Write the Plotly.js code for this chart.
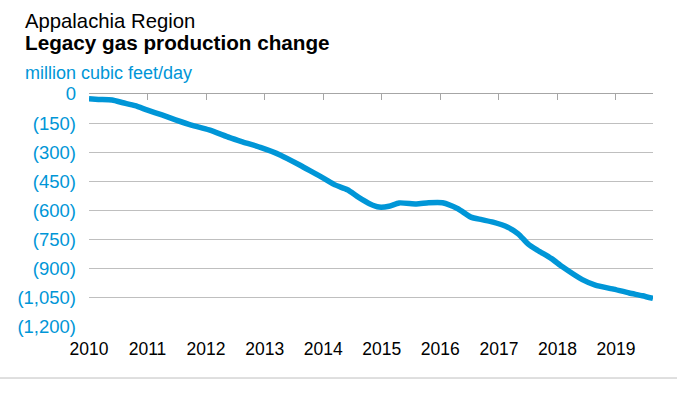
<!DOCTYPE html>
<html>
<head>
<meta charset="utf-8">
<script src="https://cdn.plot.ly/plotly-3.0.1.min.js"></script>
<style>html,body{margin:0;padding:0;background:#fff;}#chart{width:687px;height:393px;}</style>
</head>
<body>
<div id="chart"></div>
<script>
// Legacy gas production change, Appalachia Region (million cubic feet/day)
const dates = [
  '2010-01-01','2010-03-01','2010-05-25','2010-08-01','2010-10-15','2011-01-01',
  '2011-04-01','2011-06-25','2011-10-01','2012-01-20','2012-05-28','2012-08-10',
  '2012-12-05','2013-04-10','2013-08-10','2013-11-01','2014-01-10','2014-03-15',
  '2014-06-01','2014-08-10','2014-10-20','2014-12-15','2015-02-15','2015-04-20',
  '2015-08-05','2015-10-20','2016-01-15','2016-04-20','2016-07-10','2016-09-15',
  '2016-11-25','2017-02-25','2017-05-01','2017-07-01','2017-09-01','2017-11-25',
  '2018-02-01','2018-06-05','2018-08-25','2018-12-10','2019-03-25','2019-06-15',
  '2019-08-20'
];
const values = [
  -25, -28, -31, -45, -60, -83,
  -108, -133, -160, -185, -225, -245,
  -275, -315, -367, -405, -437, -468,
  -493, -532, -566, -582, -578, -561,
  -566, -560, -560, -591, -634, -647,
  -660, -686, -720, -772, -806, -848,
  -890, -956, -984, -1004, -1025, -1039,
  -1053
];
const yTickVals = [0, -150, -300, -450, -600, -750, -900, -1050, -1200];
const yTickText = ['0', '(150)', '(300)', '(450)', '(600)', '(750)', '(900)', '(1,050)', '(1,200)'];
const xTickVals = ['2010-01-01','2011-01-01','2012-01-01','2013-01-01','2014-01-01','2015-01-01','2016-01-01','2017-01-01','2018-01-01','2019-01-01'];
const xTickText = ['2010','2011','2012','2013','2014','2015','2016','2017','2018','2019'];
const xRange = ['2010-01-01', '2019-08-20'];

const blue = '#0096D7';
const grid = '#BFBFBF';
const font = 'Arial, "Liberation Sans", sans-serif';

const traces = [
  {
    x: dates, y: values, type: 'scatter', mode: 'lines',
    line: {color: blue, width: 5.5, shape: 'spline', smoothing: 0.6},
    hoverinfo: 'skip', showlegend: false
  },
  {
    x: dates, y: values, xaxis: 'x2', type: 'scatter', mode: 'lines',
    line: {color: 'rgba(0,0,0,0)', width: 0}, hoverinfo: 'skip', showlegend: false
  }
];

const layout = {
  width: 687, height: 393,
  margin: {l: 89, r: 34, t: 94, b: 66},
  paper_bgcolor: '#ffffff', plot_bgcolor: '#ffffff',
  font: {family: font, size: 17, color: '#000'},
  showlegend: false,
  xaxis: {
    type: 'date', range: xRange,
    tickmode: 'array', tickvals: xTickVals, ticktext: xTickText,
    showgrid: false, zeroline: false, showline: false, ticks: '',
    ticklabelstandoff: 9,
    tickfont: {family: font, size: 17.5, color: '#000'}
  },
  xaxis2: {
    type: 'date', range: xRange, overlaying: 'x', side: 'top', anchor: 'y',
    tickmode: 'array', tickvals: xTickVals,
    showticklabels: false, showgrid: false, zeroline: false,
    showline: true, linecolor: '#A6A6A6', linewidth: 1,
    ticks: 'inside', ticklen: 6, tickcolor: '#A6A6A6', tickwidth: 1
  },
  yaxis: {
    range: [-1200, 0],
    tickmode: 'array', tickvals: yTickVals, ticktext: yTickText,
    showgrid: true, gridcolor: grid, gridwidth: 1,
    zeroline: false, showline: false, ticks: '',
    ticklabelstandoff: 12,
    tickfont: {family: font, size: 18.5, color: blue}
  },
  annotations: [
    {text: 'Appalachia Region', xref: 'paper', yref: 'paper', x: -0.117, y: 1.315,
     xanchor: 'left', yanchor: 'middle', showarrow: false,
     font: {family: font, size: 20.3, color: '#000'}},
    {text: '<b>Legacy gas production change</b>', xref: 'paper', yref: 'paper', x: -0.117, y: 1.222,
     xanchor: 'left', yanchor: 'middle', showarrow: false,
     font: {family: font, size: 20.7, color: '#000'}},
    {text: 'million cubic feet/day', xref: 'paper', yref: 'paper', x: -0.117, y: 1.092,
     xanchor: 'left', yanchor: 'middle', showarrow: false,
     font: {family: font, size: 18, color: blue}}
  ],
  shapes: [
    {type: 'line', xref: 'paper', yref: 'paper', x0: -0.158, x1: 1.0426, y0: -0.219, y1: -0.219,
     line: {color: '#BFBFBF', width: 1}}
  ]
};

Plotly.newPlot('chart', traces, layout, {staticPlot: true, displayModeBar: false});
</script>
</body>
</html>
